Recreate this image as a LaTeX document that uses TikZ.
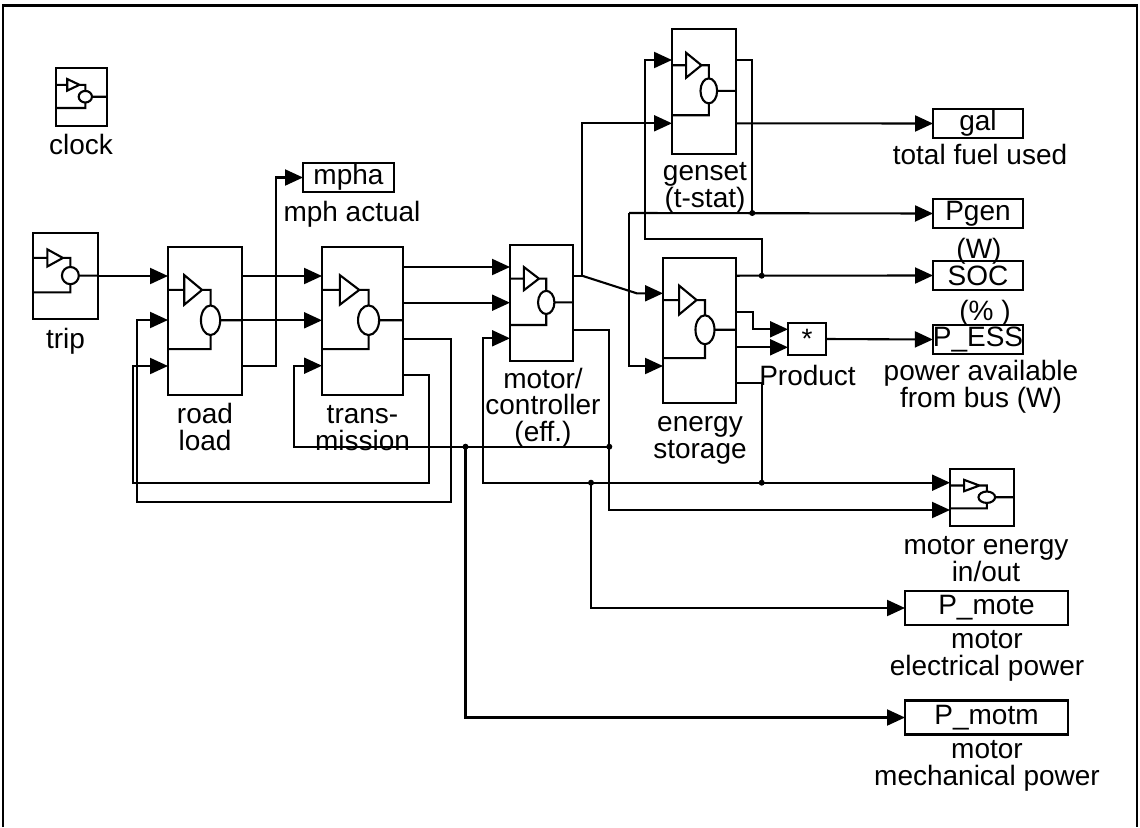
\documentclass[tikz,border=0pt]{standalone}
\usepackage{fontspec}
\setmainfont{Liberation Sans}
\usetikzlibrary{arrows.meta}
\newcommand{\unitblock}[5]{%
  \pgfmathsetmacro\bw{#4-#2}\pgfmathsetmacro\bh{#5-#3}
  \node[unit,minimum width=\bw pt,minimum height=\bh pt] (#1) at ({(#2+#4)/2},{(#3+#5)/2}) {};
  \begin{scope}[shift={(#2,#3)},x=\bw pt,y=-\bh pt]
    \draw[wire] (0,.29) -- (.22,.29) (.22,.19) -- (.46,.29) -- (.22,.39) -- cycle
      (.46,.29) -- (.575,.29) -- (.575,.395)
      (.575,.495) ellipse [x radius=.13,y radius=.1]
      (.705,.495) -- (1,.495)
      (0,.69) -- (.575,.69) -- (.575,.595);
  \end{scope}}

\begin{document}
\begin{tikzpicture}[x=1pt,y=-1pt,
  every node/.style={font=\fontsize{28}{26.5}\selectfont,inner sep=0pt,outer sep=0pt},
  unit/.style={draw,line width=2.1pt},
  disp/.style={draw,line width=2.1pt,minimum width=90,minimum height=29},
  lbl/.style={align=center,anchor=base},
  wire/.style={line width=2.1pt,line join=miter},
  ar/.style={wire,-{Triangle[length=18pt,width=16pt]}}]
\useasboundingbox (0,0) rectangle (1140,827);
\draw[line width=2.2pt] (3,827) -- (3,5.5) -- (1137,5.5) -- (1137,827);

\unitblock{clock}{56}{68}{107}{126}
\unitblock{trip}{33}{233}{98}{319}
\unitblock{road}{168}{247}{242}{395}
\unitblock{trans}{322}{247}{403}{395}
\unitblock{motor}{510}{245}{573}{361}
\unitblock{genset}{672}{29}{736}{154}
\unitblock{ess}{663}{258}{736}{403}
\unitblock{menergy}{950}{469}{1014}{526}

\node[disp,minimum width=91] (mpha) at (348.5,177.5) {mpha};
\node[disp] (gal) at (978,123.5) {gal};
\node[disp] (pgen) at (978,213.5) {Pgen};
\node[disp] (soc) at (978,275.5) {SOC};
\node[disp] (pess) at (978,339.5) {P\_ESS};
\node[disp,minimum width=163,minimum height=34] (pmote) at (986.5,608) {P\_mote};
\node[disp,minimum width=163,minimum height=34] (pmotm) at (986.5,717.5) {P\_motm};
\node[disp,minimum width=38,minimum height=32] (product) at (807,339) {*};

% multi-line labels sit on the baseline of their last line
\node[lbl] (clock-l) at (81,154) {clock};
\node[lbl] (trip-l) at (65.5,348) {trip};
\node[lbl] (road-l) at (205,450) {road\\load};
\node[lbl] (trans-l) at (362.5,450) {trans-\\mission};
\node[lbl] (motor-l) at (543,441) {motor/\\controller\\(eff.)};
\node[lbl] (ess-l) at (700,458) {energy\\storage};
\node[lbl] (genset-l) at (705,207) {genset\\(t-stat)};
\node[lbl] (mpha-l) at (352,221) {mph actual};
\node[lbl] (gal-l) at (980,164) {total fuel used};
\node[lbl] (pgen-l) at (979,258) {(W)};
\node[lbl] (soc-l) at (985,320) {(\% )};
\node[lbl] (pess-l) at (981,407) {power available\\from bus (W)};
\node[lbl] (product-l) at (807.5,385) {Product};
\node[lbl] (menergy-l) at (986,581) {motor energy\\in/out};
\node[lbl] (pmote-l) at (987,675) {motor\\electrical power};
\node[lbl] (pmotm-l) at (987,785) {motor\\mechanical power};

\foreach \n/\x/\y in {rl-i2/168/320,rl-i3/168/366,rl-o1/242/276,rl-o2/242/320.3,rl-o3/242/366,
  tr-i1/322/276,tr-i2/322/320.3,tr-i3/322/365.7,tr-o1/403/267,tr-o2/403/302.7,tr-o3/403/339.3,tr-o4/403/375,
  mc-i1/510/267,mc-i2/510/302.7,mc-i3/510/338.3,mc-o1/573/275.7,mc-o3/573/330,
  gs-i1/672/60,gs-i2/672/123.3,gs-o1/736/60,gs-o2/736/123.3,
  es-i1/663/293.3,es-i2/663/366,es-o1/736/275.7,es-o2/736/311.7,es-o3/736/347.3,es-o4/736/383.3,
  pr-i1/788/329.3,pr-i2/788/347.3,me-i1/950/482.7,me-i2/950/510,
  j-mc/582/275.7,j-soc/761.7/275.7,j-gen/752.3/213,gen-bus/629/213,
  j-mech/609.3/446.7,j-motm/465.5/446.7,j-mote/591/482.7,j-bus/761.7/482.7}
  \coordinate (\n) at (\x,\y);

\draw[ar] (trip.east) -- (trip.east -| road.west);
\draw[ar] (rl-o1) -- (tr-i1);
\draw[ar] (rl-o2) -- (tr-i2);
\draw[ar] (rl-o3) -- ++(34,0) |- (mpha.west);
\draw[ar] (tr-o1) -- (mc-i1);
\draw[ar] (tr-o2) -- (mc-i2);
\draw[ar] (tr-o3) -| (451,501.7) -- (137.3,501.7) |- (rl-i2);
\draw[ar] (tr-o4) -| (429.3,482.7) -- (132.7,482.7) |- (rl-i3);
\draw[wire] (mc-o1) -- (j-mc);
\draw[ar] (j-mc) |- (gs-i2);
\draw[ar] (j-mc) -- (636.7,293.3) -- (es-i1);
\draw[ar] (mc-o3) -| (j-mech) |- (me-i2);
\draw[ar] (j-mech) -- (294.3,446.7) |- (tr-i3);
\draw[ar] (j-motm) |- (pmotm.west);
\draw[wire] (es-o4) -| (j-bus);
\draw[ar] (j-bus) -- (me-i1);
\draw[ar] (j-bus) -- (483.3,482.7) |- (mc-i3);
\draw[ar] (j-mote) |- (pmote.west);
\draw[ar] (es-o1) -- (soc.west);
\draw[ar] (j-soc) |- (645.3,239.3) |- (gs-i1);
\draw[wire] (gs-o1) -| (j-gen);
\draw[ar] (gen-bus) -- (pgen.west);
\draw[ar] (gen-bus) |- (es-i2);
\draw[ar] (gs-o2) -- (gal.west);
\draw[ar] (es-o2) -| (752.7,329.3) -- (pr-i1);
\draw[ar] (es-o3) -- (pr-i2);
\draw[ar] (product.east) -- (pess.west);

\foreach \j in {j-soc,j-gen,j-mech,j-motm,j-mote,j-bus} \fill (\j) circle[radius=3];
\end{tikzpicture}
\end{document}
